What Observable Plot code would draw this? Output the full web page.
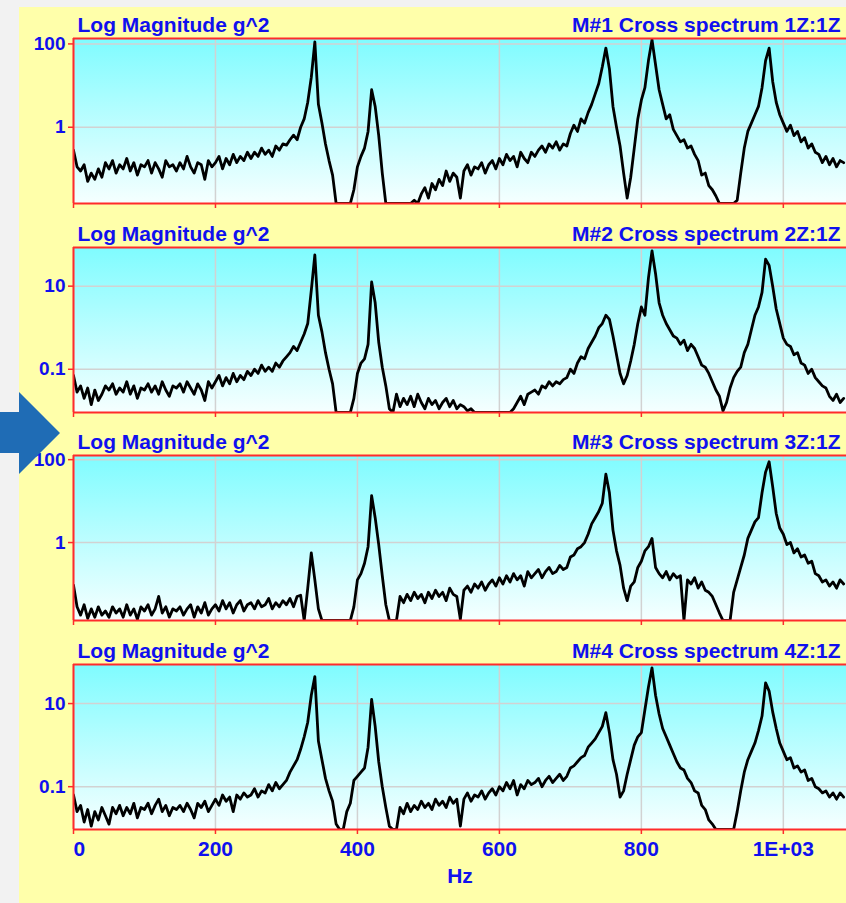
<!DOCTYPE html>
<html>
<head>
<meta charset="utf-8">
<script src="https://cdn.jsdelivr.net/npm/d3@7"></script>
<script src="https://cdn.jsdelivr.net/npm/@observablehq/plot@0.6"></script>
<style>
  html, body { margin: 0; padding: 0; width: 846px; height: 903px; overflow: hidden; background: #f2f2f2; }
  #page { position: relative; width: 846px; height: 903px; }
  #yellow { position: absolute; left: 19px; top: 7px; right: 0; bottom: 0; background: #ffffaa; }
  .panel { position: absolute; left: 0; }
  #arrow { position: absolute; left: 0; top: 392px; width: 60px; height: 82px; background: #1f6cb5;
    clip-path: polygon(0 24.4%, 31.7% 24.4%, 31.7% 0, 100% 50%, 31.7% 100%, 31.7% 74.4%, 0 74.4%); }
</style>
</head>
<body>
<div id="page"><div id="yellow"></div><div id="arrow"></div></div>
<script>
// ---------- data (values are log10 of magnitude in g^2, sampled every 5 Hz from 0 to 1085 Hz) ----------
const freqHz = d3.range(0, 1086, 5);

const m1Log = [
  -0.55,-0.95,-1.05,-0.9,-1.3,-1.1,-1.25,-1.0,-1.2,-0.85,
  -1.0,-0.8,-1.1,-0.9,-1.0,-0.75,-1.05,-0.85,-1.15,-0.9,
  -0.95,-0.8,-1.1,-0.85,-1.0,-1.2,-0.8,-0.95,-0.9,-1.05,
  -0.85,-1.0,-0.7,-0.95,-1.1,-0.85,-0.9,-1.25,-0.8,-0.95,
  -0.85,-0.7,-1.0,-0.75,-0.9,-0.65,-0.85,-0.7,-0.8,-0.6,
  -0.75,-0.6,-0.7,-0.5,-0.65,-0.55,-0.7,-0.45,-0.55,-0.4,
  -0.43,-0.3,-0.19,-0.3,0.0,0.2,0.6,1.2,2.05,0.55,
  0.1,-0.4,-0.8,-1.15,-1.83,-1.83,-1.83,-1.83,-1.83,-1.5,
  -0.95,-0.7,-0.5,-0.1,0.9,0.5,-0.2,-1.1,-1.83,-1.83,
  -1.83,-1.83,-1.83,-1.83,-1.83,-1.83,-1.75,-1.83,-1.6,-1.45,
  -1.7,-1.35,-1.5,-1.25,-1.4,-1.05,-1.3,-1.1,-1.2,-1.7,
  -1.05,-0.9,-1.15,-0.95,-1.0,-0.85,-1.1,-0.9,-0.8,-1.0,
  -0.75,-0.9,-0.65,-0.8,-0.7,-0.95,-0.6,-0.75,-0.85,-0.6,
  -0.7,-0.55,-0.45,-0.6,-0.4,-0.5,-0.35,-0.55,-0.4,-0.45,
  -0.15,0.05,-0.1,0.2,0.1,0.35,0.55,0.8,1.05,1.45,
  1.9,1.4,0.5,0.0,-0.45,-1.1,-1.7,-1.2,-0.5,0.2,
  0.65,0.95,1.6,2.1,1.5,0.9,0.55,0.2,0.3,-0.05,
  -0.2,-0.35,-0.3,-0.5,-0.45,-0.65,-0.8,-1.15,-1.1,-1.4,
  -1.5,-1.65,-1.83,-1.83,-1.83,-1.83,-1.83,-1.75,-1.1,-0.5,
  -0.1,0.1,0.3,0.5,0.95,1.6,1.9,1.1,0.6,0.3,
  0.1,-0.1,0.05,-0.2,-0.1,-0.35,-0.25,-0.5,-0.4,-0.6,
  -0.65,-0.85,-0.7,-0.9,-0.75,-0.95,-0.8,-0.85
];

const m2Log = [
  -1.15,-1.55,-1.4,-1.7,-1.45,-1.85,-1.5,-1.75,-1.6,-1.4,
  -1.5,-1.35,-1.6,-1.45,-1.55,-1.3,-1.6,-1.4,-1.7,-1.45,
  -1.5,-1.35,-1.55,-1.4,-1.6,-1.3,-1.5,-1.65,-1.4,-1.45,
  -1.35,-1.55,-1.3,-1.45,-1.6,-1.35,-1.5,-1.75,-1.3,-1.45,
  -1.3,-1.15,-1.4,-1.2,-1.35,-1.1,-1.3,-1.15,-1.25,-1.05,
  -1.15,-1.0,-1.1,-0.9,-1.05,-0.95,-1.05,-0.85,-0.95,-0.8,
  -0.7,-0.6,-0.45,-0.55,-0.35,-0.15,0.1,0.9,1.75,0.3,
  -0.1,-0.6,-1.0,-1.35,-2.04,-2.04,-2.04,-2.04,-2.04,-1.7,
  -1.1,-0.85,-0.75,-0.4,1.1,0.6,-0.35,-0.95,-1.4,-1.95,
  -2.04,-1.6,-1.9,-1.7,-1.85,-1.65,-1.9,-1.6,-1.8,-1.95,
  -1.7,-1.85,-1.75,-1.95,-1.8,-1.7,-1.9,-1.75,-1.95,-1.85,
  -1.9,-2.0,-1.95,-2.04,-2.04,-2.04,-2.04,-2.04,-2.04,-2.04,
  -2.04,-2.04,-2.04,-2.04,-1.95,-1.8,-1.65,-1.85,-1.6,-1.55,
  -1.5,-1.6,-1.4,-1.45,-1.3,-1.4,-1.3,-1.35,-1.25,-1.2,
  -1.0,-1.1,-0.85,-0.7,-0.75,-0.5,-0.35,-0.2,0.0,0.1,
  0.3,0.2,-0.2,-0.65,-1.1,-1.35,-1.15,-0.8,-0.4,0.1,
  0.5,0.3,1.2,1.85,1.3,0.6,0.3,0.1,-0.05,-0.2,
  -0.25,-0.4,-0.3,-0.55,-0.4,-0.5,-0.7,-0.9,-0.95,-1.1,
  -1.3,-1.5,-1.65,-2.0,-1.8,-1.45,-1.2,-1.05,-0.95,-0.6,
  -0.4,-0.05,0.3,0.5,0.85,1.65,1.5,1.0,0.45,0.1,
  -0.25,-0.4,-0.45,-0.65,-0.6,-0.85,-0.9,-1.1,-1.0,-1.2,
  -1.3,-1.4,-1.45,-1.65,-1.75,-1.6,-1.8,-1.7
];

const m3Log = [
  -1.03,-1.55,-1.75,-1.5,-1.83,-1.6,-1.8,-1.55,-1.75,-1.65,
  -1.8,-1.55,-1.7,-1.6,-1.8,-1.5,-1.75,-1.6,-1.85,-1.55,
  -1.65,-1.5,-1.75,-1.6,-1.3,-1.7,-1.55,-1.8,-1.6,-1.65,
  -1.55,-1.75,-1.6,-1.5,-1.8,-1.55,-1.7,-1.45,-1.75,-1.6,
  -1.5,-1.65,-1.4,-1.6,-1.45,-1.7,-1.5,-1.4,-1.65,-1.5,
  -1.45,-1.6,-1.4,-1.55,-1.5,-1.35,-1.6,-1.45,-1.55,-1.4,
  -1.5,-1.35,-1.55,-1.3,-1.27,-1.88,-1.1,-0.25,-0.9,-1.6,
  -1.88,-1.88,-1.88,-1.88,-1.88,-1.88,-1.88,-1.88,-1.88,-1.55,
  -0.9,-0.75,-0.5,-0.1,1.13,0.6,-0.05,-0.8,-1.5,-1.88,
  -1.88,-1.88,-1.3,-1.45,-1.25,-1.4,-1.2,-1.35,-1.25,-1.45,
  -1.2,-1.35,-1.15,-1.3,-1.2,-1.4,-1.1,-1.25,-1.3,-1.85,
  -1.15,-1.05,-1.2,-1.0,-1.1,-0.95,-1.15,-1.0,-0.9,-1.05,
  -0.85,-1.0,-0.8,-0.95,-0.75,-0.9,-0.8,-1.05,-0.7,-0.85,
  -0.75,-0.65,-0.85,-0.7,-0.6,-0.75,-0.7,-0.55,-0.65,-0.6,
  -0.35,-0.3,-0.15,-0.1,0.0,0.2,0.45,0.6,0.75,0.95,
  1.65,1.2,0.3,-0.2,-0.55,-1.1,-1.4,-1.05,-0.95,-0.6,
  -0.45,-0.2,-0.1,0.1,-0.6,-0.75,-0.85,-0.7,-0.9,-0.75,
  -0.85,-0.8,-1.88,-0.9,-1.0,-0.85,-1.1,-0.95,-1.15,-1.2,
  -1.3,-1.5,-1.7,-1.88,-1.88,-1.88,-1.2,-0.9,-0.6,-0.3,
  0.1,0.3,0.5,0.6,1.2,1.7,1.95,1.35,0.7,0.35,
  0.2,-0.05,0.0,-0.25,-0.15,-0.35,-0.3,-0.5,-0.45,-0.75,
  -0.8,-0.95,-0.9,-1.05,-0.95,-1.1,-0.9,-1.0
];

const m4Log = [
  -1.2,-1.6,-1.45,-1.85,-1.55,-1.95,-1.6,-1.8,-1.5,-1.7,
  -1.9,-1.5,-1.65,-1.45,-1.7,-1.5,-1.65,-1.4,-1.75,-1.5,
  -1.55,-1.4,-1.65,-1.45,-1.3,-1.6,-1.45,-1.7,-1.5,-1.55,
  -1.45,-1.6,-1.4,-1.55,-1.75,-1.4,-1.5,-1.35,-1.6,-1.45,
  -1.3,-1.45,-1.2,-1.35,-1.25,-1.6,-1.2,-1.3,-1.15,-1.25,
  -1.2,-1.05,-1.25,-1.1,-1.15,-0.95,-1.1,-0.9,-1.05,-0.95,
  -0.85,-0.65,-0.5,-0.35,-0.1,0.2,0.55,1.2,1.65,0.1,
  -0.35,-0.8,-1.1,-1.35,-1.9,-2.03,-2.03,-1.6,-1.4,-0.85,
  -0.75,-0.65,-0.55,-0.05,1.1,0.45,-0.4,-1.0,-1.5,-1.95,
  -2.03,-2.03,-1.5,-1.65,-1.4,-1.6,-1.45,-1.55,-1.35,-1.5,
  -1.4,-1.55,-1.3,-1.45,-1.35,-1.5,-1.25,-1.4,-1.3,-1.95,
  -1.3,-1.15,-1.35,-1.2,-1.25,-1.1,-1.3,-1.15,-1.05,-1.2,
  -1.0,-1.1,-0.9,-1.05,-0.85,-1.2,-0.95,-1.05,-0.85,-0.95,
  -0.9,-0.8,-1.0,-0.85,-0.75,-0.9,-0.8,-0.7,-0.85,-0.75,
  -0.55,-0.5,-0.4,-0.3,-0.25,-0.05,0.05,0.15,0.3,0.45,
  0.78,0.3,-0.35,-0.7,-1.25,-1.1,-0.7,-0.35,0.0,0.2,
  0.3,0.85,1.4,1.86,1.2,0.75,0.4,0.2,0.0,-0.2,
  -0.4,-0.55,-0.6,-0.8,-0.9,-1.1,-1.15,-1.45,-1.55,-1.8,
  -1.9,-2.03,-2.03,-2.03,-2.03,-2.03,-2.03,-1.6,-1.1,-0.65,
  -0.35,-0.15,0.05,0.35,0.7,1.5,1.3,0.8,0.4,0.05,
  -0.15,-0.35,-0.3,-0.55,-0.5,-0.65,-0.6,-0.85,-0.8,-1.0,
  -1.05,-1.15,-1.1,-1.25,-1.15,-1.3,-1.15,-1.25
];

const titlesLeft = ["Log Magnitude g^2", "Log Magnitude g^2", "Log Magnitude g^2", "Log Magnitude g^2"];
const titlesRight = ["M#1 Cross spectrum 1Z:1Z", "M#2 Cross spectrum 2Z:1Z", "M#3 Cross spectrum 3Z:1Z", "M#4 Cross spectrum 4Z:1Z"];
const yTickValues = [[100, 1], [10, 0.1], [100, 1], [10, 0.1]];
const yTickLabels = [["100", "1"], ["10", "0.1"], ["100", "1"], ["10", "0.1"]];
const yLogDomains = [[-1.83, 2.13], [-2.04, 1.93], [-1.88, 2.1], [-2.03, 1.94]];
const xTickValues = [0, 200, 400, 600, 800, 1000];
const xTickLabels = ["0", "200", "400", "600", "800", "1E+03"];
const xLabel = "Hz";
const seriesLogs = [m1Log, m2Log, m3Log, m4Log];

// ---------- style ----------
const BLUE = "#1010ee";
const RED = "#ff2b2b";
const GRID = "#d2d2d2";
const FONT = "'Liberation Sans', Arial, Helvetica, sans-serif";
const frameTops = [38, 247, 455, 664];
const frameH = 165;
const MT = 32;

const page = document.getElementById("page");

seriesLogs.forEach((logs, k) => {
  const data = freqHz.map((f, i) => ({f, v: Math.pow(10, logs[i])}));
  const [lo, hi] = yLogDomains[k];
  const yMin = Math.pow(10, lo), yMax = Math.pow(10, hi);
  const last = k === seriesLogs.length - 1;
  const MB = last ? 72 : 10;
  const gid = "bg" + k;
  const xTickRows = xTickValues.map((value, i) => ({value, label: xTickLabels[i]}));

  const marks = [
    () => {
      const defs = d3.create("svg:defs");
      const g = defs.append("linearGradient").attr("id", gid)
        .attr("x1", 0).attr("y1", 0).attr("x2", 0).attr("y2", 1);
      g.append("stop").attr("offset", "0%").attr("stop-color", "#7ffcff");
      g.append("stop").attr("offset", "100%").attr("stop-color", "#f6ffff");
      return defs.node();
    },
    Plot.frame({fill: `url(#${gid})`, stroke: "none"}),
    Plot.ruleX(xTickValues, {stroke: GRID, strokeWidth: 1.5}),
    Plot.ruleY(yTickValues[k], {stroke: GRID, strokeWidth: 1.5}),
    Plot.line(data, {x: "f", y: "v", stroke: "black", strokeWidth: 2.8, clip: true}),
    Plot.ruleY([yMin, yMax], {stroke: RED, strokeWidth: 2}),
    Plot.ruleX([0], {stroke: RED, strokeWidth: 2}),
    Plot.axisY({
      ticks: yTickValues[k], anchor: "left", tickSize: 5, tickPadding: 3,
      stroke: RED, strokeWidth: 1.5, fill: BLUE, fontSize: 19, fontWeight: "bold", fontFamily: FONT,
      tickFormat: d => yTickLabels[k][yTickValues[k].indexOf(d)], label: null
    }),
    Plot.axisX({
      ticks: xTickValues, anchor: "bottom", tickSize: 5, stroke: RED, strokeWidth: 1.5,
      tickFormat: () => "", label: null
    }),
    Plot.text([titlesLeft[k]], {
      frameAnchor: "top-left", dx: 4, dy: -7, textAnchor: "start", lineAnchor: "bottom",
      fill: BLUE, fontSize: 21, fontWeight: "bold", fontFamily: FONT
    }),
    Plot.text([titlesRight[k]], {
      frameAnchor: "top-right", dx: -6, dy: -7, textAnchor: "end", lineAnchor: "bottom",
      fill: BLUE, fontSize: 21, fontWeight: "bold", fontFamily: FONT
    })
  ];

  if (last) {
    marks.push(
      Plot.text(xTickRows.filter(d => d.value === 0), {
        x: "value", text: "label", frameAnchor: "bottom", dy: 20, textAnchor: "start",
        lineAnchor: "middle", fill: BLUE, fontSize: 21, fontWeight: "bold", fontFamily: FONT
      }),
      Plot.text(xTickRows.filter(d => d.value !== 0), {
        x: "value", text: "label", frameAnchor: "bottom", dy: 20, textAnchor: "middle",
        lineAnchor: "middle", fill: BLUE, fontSize: 21, fontWeight: "bold", fontFamily: FONT
      }),
      Plot.text([xLabel], {
        frameAnchor: "bottom", dy: 53, lineAnchor: "bottom",
        fill: BLUE, fontSize: 21, fontWeight: "bold", fontFamily: FONT
      })
    );
  }

  const chart = Plot.plot({
    width: 846,
    height: MT + frameH + MB,
    marginLeft: 73, marginRight: 0, marginTop: MT, marginBottom: MB,
    x: {domain: [0, 1089]},
    y: {type: "log", domain: [yMin, yMax]},
    style: {background: "transparent", fontFamily: FONT, overflow: "visible"},
    marks
  });
  chart.classList.add("panel");
  chart.style.top = (frameTops[k] - MT) + "px";
  page.insertBefore(chart, document.getElementById("arrow"));
});
</script>
</body>
</html>
